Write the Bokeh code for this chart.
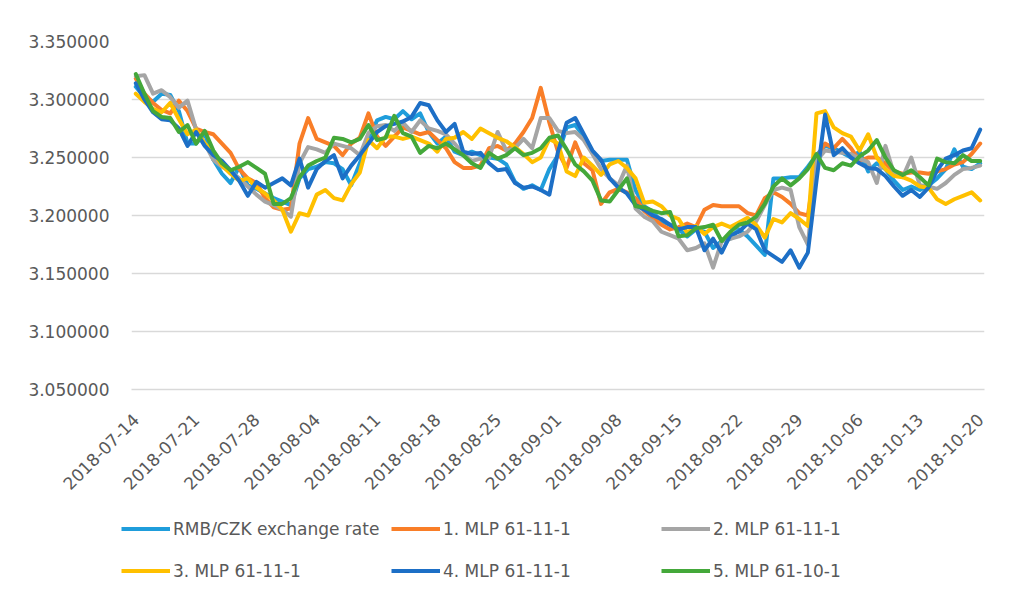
import math
from bokeh.plotting import figure
from bokeh.layouts import column, row
from bokeh.models import FixedTicker, PrintfTickFormatter, Legend, LegendItem, Range1d
from bokeh.embed import file_html
from bokeh.resources import INLINE

tick_labels = ["2018-07-14", "2018-07-21", "2018-07-28", "2018-08-04", "2018-08-11",
               "2018-08-18", "2018-08-25", "2018-09-01", "2018-09-08", "2018-09-15",
               "2018-09-22", "2018-09-29", "2018-10-06", "2018-10-13", "2018-10-20"]
y_ticks = [3.05, 3.10, 3.15, 3.20, 3.25, 3.30, 3.35]

series_names = ["RMB/CZK exchange rate", "1. MLP 61-11-1", "2. MLP 61-11-1",
                "3. MLP 61-11-1", "4. MLP 61-11-1", "5. MLP 61-10-1"]

rmb = [3.311, 3.302, 3.298, 3.305, 3.304, 3.290, 3.262, 3.262, 3.271, 3.248,
       3.236, 3.228, 3.242, 3.226, 3.223, 3.219, 3.215, 3.212, 3.209, 3.232,
       3.240, 3.242, 3.246, 3.245, 3.240, 3.226, 3.245, 3.265, 3.282, 3.285,
       3.283, 3.290, 3.283, 3.288, 3.272, 3.262, 3.268, 3.255, 3.252, 3.255,
       3.252, 3.250, 3.249, 3.244, 3.229, 3.223, 3.226, 3.222, 3.240, 3.252,
       3.276, 3.278, 3.268, 3.255, 3.247, 3.248, 3.248, 3.248, 3.222, 3.208,
       3.203, 3.195, 3.192, 3.188, 3.182, 3.188, 3.186, 3.172, 3.178, 3.180,
       3.188, 3.182, 3.174, 3.166, 3.232, 3.232, 3.233, 3.233, 3.242, 3.252,
       3.260, 3.258, 3.254, 3.250, 3.255, 3.238, 3.245, 3.240, 3.230, 3.222,
       3.225, 3.222, 3.226, 3.232, 3.240, 3.257, 3.242, 3.240, 3.245]

mlp1 = [3.318, 3.305, 3.297, 3.291, 3.288, 3.299, 3.290, 3.275, 3.272, 3.270,
        3.262, 3.254, 3.240, 3.232, 3.228, 3.215, 3.207, 3.205, 3.206, 3.262,
        3.284, 3.266, 3.263, 3.260, 3.252, 3.262, 3.267, 3.288, 3.268, 3.260,
        3.268, 3.276, 3.273, 3.270, 3.272, 3.265, 3.258, 3.246, 3.241, 3.241,
        3.243, 3.258, 3.260, 3.256, 3.262, 3.272, 3.284, 3.310, 3.280, 3.255,
        3.241, 3.263, 3.245, 3.239, 3.210, 3.220, 3.223, 3.220, 3.215, 3.204,
        3.198, 3.192, 3.188, 3.190, 3.193, 3.190, 3.205, 3.209, 3.208, 3.208,
        3.208, 3.202, 3.200, 3.215, 3.220, 3.216, 3.210, 3.202, 3.200, 3.250,
        3.262, 3.258, 3.266, 3.258, 3.247, 3.250, 3.250, 3.245, 3.238, 3.236,
        3.237, 3.237, 3.236, 3.238, 3.240, 3.244, 3.246, 3.253, 3.262]

mlp2 = [3.320, 3.321, 3.305, 3.308, 3.302, 3.293, 3.299, 3.274, 3.262, 3.248,
        3.242, 3.238, 3.232, 3.225, 3.218, 3.212, 3.209, 3.205, 3.199, 3.245,
        3.259, 3.257, 3.254, 3.262, 3.260, 3.258, 3.252, 3.271, 3.277, 3.278,
        3.273, 3.280, 3.272, 3.282, 3.275, 3.273, 3.270, 3.262, 3.253, 3.247,
        3.249, 3.250, 3.272, 3.256, 3.258, 3.266, 3.258, 3.284, 3.284, 3.273,
        3.271, 3.272, 3.265, 3.253, 3.240, 3.232, 3.226, 3.243, 3.206, 3.199,
        3.195, 3.186, 3.183, 3.180, 3.170, 3.172, 3.176, 3.155, 3.178, 3.180,
        3.182, 3.186, 3.195, 3.209, 3.222, 3.224, 3.222, 3.190, 3.175, 3.247,
        3.256, 3.255, 3.254, 3.253, 3.249, 3.246, 3.228, 3.260, 3.236, 3.233,
        3.250, 3.226, 3.225, 3.223, 3.228, 3.235, 3.240, 3.241, 3.243]

mlp3 = [3.305, 3.298, 3.292, 3.289, 3.297, 3.283, 3.270, 3.274, 3.262, 3.255,
        3.243, 3.236, 3.230, 3.232, 3.224, 3.219, 3.213, 3.205, 3.186, 3.202,
        3.200, 3.218, 3.222, 3.215, 3.213, 3.227, 3.237, 3.265, 3.258, 3.268,
        3.268, 3.266, 3.268, 3.265, 3.262, 3.255, 3.266, 3.267, 3.272, 3.266,
        3.275, 3.271, 3.267, 3.264, 3.259, 3.253, 3.246, 3.250, 3.266, 3.262,
        3.238, 3.234, 3.250, 3.243, 3.235, 3.244, 3.247, 3.241, 3.232, 3.211,
        3.212, 3.208, 3.200, 3.197, 3.185, 3.191, 3.184, 3.190, 3.193, 3.190,
        3.194, 3.198, 3.192, 3.181, 3.197, 3.194, 3.202, 3.197, 3.191, 3.288,
        3.290, 3.276, 3.271, 3.268, 3.256, 3.270, 3.250, 3.240, 3.234, 3.233,
        3.230, 3.225, 3.224, 3.214, 3.210, 3.214, 3.217, 3.220, 3.213]

mlp4 = [3.314, 3.300, 3.289, 3.283, 3.282, 3.275, 3.260, 3.272, 3.260, 3.252,
        3.247, 3.239, 3.230, 3.217, 3.229, 3.224, 3.228, 3.232, 3.226, 3.249,
        3.224, 3.240, 3.247, 3.252, 3.232, 3.243, 3.252, 3.262, 3.272, 3.277,
        3.279, 3.281, 3.285, 3.297, 3.295, 3.282, 3.272, 3.279, 3.255, 3.253,
        3.254, 3.245, 3.239, 3.240, 3.228, 3.224, 3.225, 3.222, 3.218, 3.255,
        3.280, 3.284, 3.270, 3.256, 3.248, 3.232, 3.224, 3.219, 3.209, 3.205,
        3.200, 3.197, 3.192, 3.188, 3.190, 3.190, 3.170, 3.180, 3.168, 3.183,
        3.186, 3.193, 3.188, 3.170, 3.165, 3.160, 3.170, 3.155, 3.168, 3.230,
        3.287, 3.252, 3.258, 3.250, 3.245, 3.241, 3.240, 3.234, 3.225, 3.217,
        3.222, 3.216, 3.224, 3.239, 3.249, 3.252, 3.256, 3.258, 3.274]

mlp5 = [3.322, 3.305, 3.290, 3.285, 3.284, 3.272, 3.278, 3.262, 3.273, 3.256,
        3.245, 3.239, 3.242, 3.246, 3.241, 3.236, 3.210, 3.210, 3.215, 3.233,
        3.243, 3.247, 3.250, 3.267, 3.266, 3.263, 3.266, 3.278, 3.265, 3.267,
        3.286, 3.271, 3.268, 3.254, 3.260, 3.258, 3.262, 3.257, 3.252, 3.245,
        3.241, 3.254, 3.249, 3.252, 3.258, 3.252, 3.254, 3.258, 3.267, 3.269,
        3.257, 3.244, 3.238, 3.230, 3.213, 3.212, 3.222, 3.232, 3.208, 3.207,
        3.204, 3.202, 3.203, 3.182, 3.183, 3.189, 3.190, 3.192, 3.178, 3.186,
        3.192, 3.194, 3.199, 3.210, 3.225, 3.232, 3.226, 3.232, 3.240, 3.253,
        3.241, 3.239, 3.245, 3.243, 3.251, 3.256, 3.265, 3.250, 3.239, 3.235,
        3.239, 3.233, 3.226, 3.249, 3.246, 3.245, 3.252, 3.247, 3.247]

colors = ["#1F9DDB", "#F97E28", "#A5A5A5", "#FFC000", "#1D6FC6", "#44A83A"]
all_series = [rmb, mlp1, mlp2, mlp3, mlp4, mlp5]

x = list(range(len(rmb)))
FONT = "DejaVu Sans"
TXT = "#595959"

# main chart
p = figure(width=1025, height=500, output_backend="svg", toolbar_location=None,
           x_range=Range1d(-0.5, len(rmb) - 0.5), y_range=Range1d(y_ticks[0], y_ticks[-1]),
           min_border_left=131, min_border_right=41, min_border_top=41,
           min_border_bottom=111)
p.outline_line_color = None
p.background_fill_color = "white"
p.border_fill_color = "white"

p.xgrid.grid_line_color = None
p.ygrid.grid_line_color = "#D9D9D9"
p.ygrid.grid_line_width = 1.5

p.yaxis.ticker = FixedTicker(ticks=y_ticks)
p.yaxis.formatter = PrintfTickFormatter(format="%.6f")
p.yaxis.axis_line_color = None
p.yaxis.major_tick_line_color = None
p.yaxis.minor_tick_line_color = None
p.yaxis.major_label_standoff = 16

p.xaxis.ticker = FixedTicker(ticks=[7 * i for i in range(len(tick_labels))])
p.xaxis.major_label_overrides = {7 * i: lbl for i, lbl in enumerate(tick_labels)}
p.xaxis.major_label_orientation = math.pi / 4
p.xaxis.axis_line_color = "#D9D9D9"
p.xaxis.axis_line_width = 1.5
p.xaxis.major_tick_line_color = None
p.xaxis.minor_tick_line_color = None
p.xaxis.major_label_standoff = 21

for ax in (p.xaxis[0], p.yaxis[0]):
    ax.major_label_text_font = FONT
    ax.major_label_text_font_size = "17px"
    ax.major_label_text_color = TXT

for vals, c in zip(all_series, colors):
    p.line(x, vals, line_width=4, line_color=c, line_join="round", line_cap="round")

# legend strip below the chart (its lines fall outside its own view range)
lg = figure(width=1025, height=95, output_backend="svg", toolbar_location=None,
            x_range=Range1d(0, 1), y_range=Range1d(0, 1),
            x_axis_location=None, y_axis_location=None,
            min_border_left=0, min_border_right=0, min_border_top=0, min_border_bottom=0)
lg.outline_line_color = None
lg.xgrid.grid_line_color = None
lg.ygrid.grid_line_color = None
lg.border_fill_color = "white"

items = []
for n, vals, c in zip(series_names, all_series, colors):
    r = lg.line(x, vals, line_width=4, line_color=c, line_cap="butt")
    items.append(LegendItem(label=n, renderers=[r]))

legend = Legend(items=items, orientation="horizontal", ncols=3, location=(121, 9),
                label_text_font=FONT, label_text_font_size="17px", label_text_color=TXT,
                glyph_width=49, glyph_height=31, label_standoff=3, label_width=207,
                spacing=11, padding=0, margin=0, border_line_color=None,
                background_fill_alpha=0)
lg.add_layout(legend, "center")

open("out.html", "w").write(file_html(column(p, row(lg), spacing=0), INLINE))
